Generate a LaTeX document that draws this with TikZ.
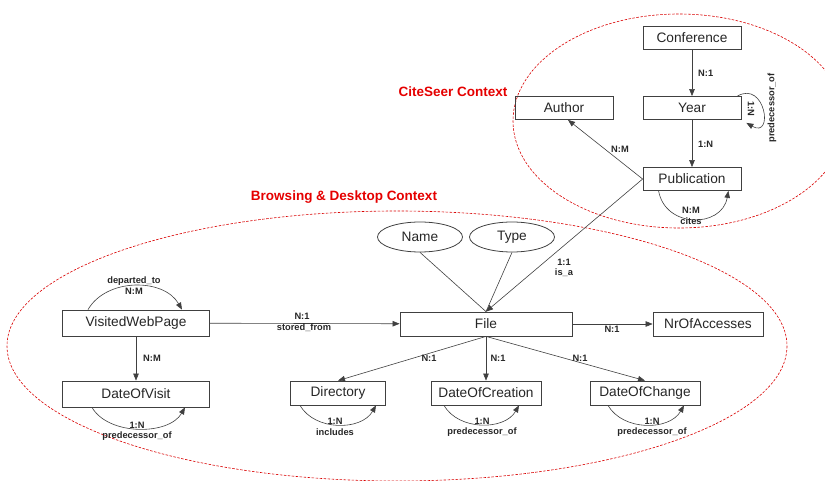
\documentclass[tikz,border=0pt]{standalone}
\usepackage{fontspec}
\setmainfont{Liberation Sans}
\usetikzlibrary{arrows.meta,shapes.geometric}

\begin{document}
\begin{tikzpicture}[x=1pt, y=-1pt,
  entity/.style={draw=black!75, line width=0.8pt, inner sep=0pt, text=black!85,
    font=\fontsize{13.7}{15}\selectfont},
  attrib/.style={draw=black!75, ellipse, line width=0.8pt, inner sep=0pt, text=black!85,
    minimum width=85pt, minimum height=30pt, font=\fontsize{13.7}{15}\selectfont},
  rel/.style={inner sep=0pt, text=black!85, font=\fontsize{9.3}{10}\selectfont\bfseries},
  ctx/.style={inner sep=0pt, text=red!90!black, font=\fontsize{13.5}{15}\selectfont\bfseries},
  link/.style={draw=black!75, line width=0.6pt, -{Triangle[length=7pt,width=5.5pt]}},
  plain/.style={draw=black!75, line width=0.6pt},
  zone/.style={draw=red!85!black, dashed, dash pattern=on 2.5pt off 1.5pt, line width=0.6pt}]

  \useasboundingbox (0,0) rectangle (825,481);

  % Context areas
  \draw[zone] (679,121) ellipse [x radius=166, y radius=107];
  \draw[zone] (397,346) ellipse [x radius=390, y radius=135];
  \node[ctx] (citeseer) at (453,92) {CiteSeer Context};
  \node[ctx] (browsing) at (344,197) {Browsing \& Desktop Context};

  % CiteSeer entities
  \node[entity, minimum width=98pt, minimum height=23pt] (conference) at (692,38) {Conference};
  \node[entity, minimum width=98pt, minimum height=23pt] (year) at (692,108) {Year};
  \node[entity, minimum width=98pt, minimum height=23pt] (author) at (564,108) {Author};
  \node[entity, minimum width=98pt, minimum height=23pt] (publication) at (692,179) {Publication};

  % Browsing and desktop entities
  \node[attrib] (name) at (420,237) {Name};
  \node[attrib] (type) at (512,237) {Type};
  \node[entity, minimum width=172pt, minimum height=24pt] (file) at (486,324) {File};
  \node[entity, minimum width=110pt, minimum height=24pt] (accesses) at (708,324) {NrOfAccesses};
  \node[entity, minimum width=147pt, minimum height=26pt] (webpage) at (136,323) {VisitedWebPage};
  \node[entity, minimum width=147pt, minimum height=26pt] (visit) at (136,394) {DateOfVisit};
  \node[entity, minimum width=95pt, minimum height=24pt] (directory) at (338,393) {Directory};
  \node[entity, minimum width=110pt, minimum height=24pt] (creation) at (486,393) {DateOfCreation};
  \node[entity, minimum width=110pt, minimum height=24pt] (change) at (645,393) {DateOfChange};

  % Relations in CiteSeer
  \draw[link] (conference) -- (year);
  \node[rel, anchor=west] (confyear) at (698,73) {N:1};
  \draw[link] (year) -- (publication);
  \node[rel, anchor=west] (yearpub) at (698,144) {1:N};
  \draw[link] (publication.west) -- ([xshift=4pt]author.south);
  \node[rel] (pubauthor) at (620,149) {N:M};
  \draw[link] ([xshift=-4pt]year.north east) to[out=30, in=-30, looseness=2.9] ([xshift=5pt,yshift=-3pt]year.south east);
  \node[rel, rotate=-90] (yearloop) at (751,109) {1:N};
  \node[rel, rotate=90] (yearloopname) at (772,108) {predecessor\_of};
  \draw[link] ([xshift=16pt]publication.south west) to[out=-80, in=-100, looseness=1.4] ([xshift=-13pt]publication.south east);
  \node[rel] (citesnum) at (691,210) {N:M};
  \node[rel] (cites) at (691,221) {cites};

  % Relations in browsing and desktop
  \draw[link] (publication.west) -- (file.north);
  \node[rel] (isanum) at (564,262) {1:1};
  \node[rel] (isa) at (564,273) {is\_a};
  \draw[plain] (name.south) -- (file.north);
  \draw[plain] (type.south) -- (file.north);
  \draw[link] (webpage) -- (file);
  \node[rel] (storednum) at (302,316) {N:1};
  \node[rel] (stored) at (304,328) {stored\_from};
  \draw[link] (file) -- (accesses);
  \node[rel] (accnum) at (612,329) {N:1};
  \draw[link] (webpage) -- (visit);
  \node[rel] (visitnum) at (152,358) {N:M};
  \draw[link] ([xshift=-48pt]webpage.north) to[out=60, in=120, looseness=1.0] ([xshift=46pt]webpage.north);
  \node[rel] (departed) at (134,281) {departed\_to};
  \node[rel] (departednum) at (134,291) {N:M};
  \draw[link] ([xshift=-44pt]visit.south) to[out=-60, in=-120, looseness=0.9] ([xshift=49pt]visit.south);
  \node[rel] (visitloopnum) at (137,425) {1:N};
  \node[rel] (visitloop) at (137,436) {predecessor\_of};
  \draw[link] (file.south) -- (directory.north);
  \node[rel] (dirnum) at (429,358) {N:1};
  \draw[link] (file.south) -- (creation.north);
  \node[rel] (creationnum) at (498,358) {N:1};
  \draw[link] (file.south) -- (change.north);
  \node[rel] (changenum) at (580,358) {N:1};
  \draw[link] ([xshift=-38pt]directory.south) to[out=-60, in=-120, looseness=1.0] ([xshift=38pt]directory.south);
  \node[rel] (dirloopnum) at (335,421) {1:N};
  \node[rel] (dirloop) at (335,432) {includes};
  \draw[link] ([xshift=-42pt]creation.south) to[out=-60, in=-120, looseness=1.0] ([xshift=33pt]creation.south);
  \node[rel] (creationloopnum) at (482,421) {1:N};
  \node[rel] (creationloop) at (482,432) {predecessor\_of};
  \draw[link] ([xshift=-37pt]change.south) to[out=-60, in=-120, looseness=1.0] ([xshift=39pt]change.south);
  \node[rel] (changeloopnum) at (652,421) {1:N};
  \node[rel] (changeloop) at (652,432) {predecessor\_of};
\end{tikzpicture}
\end{document}
